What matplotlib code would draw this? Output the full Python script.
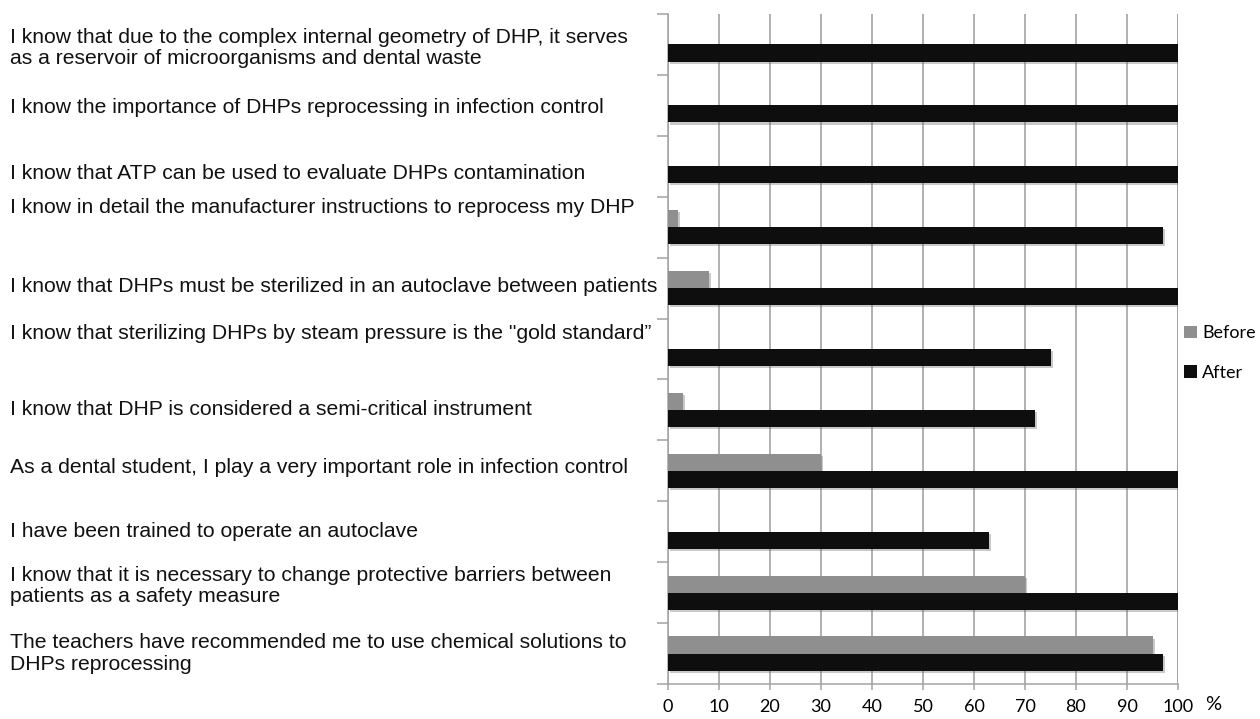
import matplotlib
matplotlib.use("Agg")
import matplotlib.pyplot as plt
import matplotlib.patheffects as pe
from matplotlib.patches import Patch

# statements, top to bottom
statements = [
    "I know that due to the complex internal geometry of DHP, it serves\nas a reservoir of microorganisms and dental waste",
    "I know the importance of DHPs reprocessing in infection control",
    "I know that ATP can be used to evaluate DHPs contamination",
    "I know in detail the manufacturer instructions to reprocess my DHP",
    "I know that DHPs must be sterilized in an autoclave between patients",
    "I know that sterilizing DHPs by steam pressure is the \"gold standard\u201d",
    "I know that DHP is considered a semi-critical instrument",
    "As a dental student, I play a very important role in infection control",
    "I have been trained to operate an autoclave",
    "I know that it is necessary to change protective barriers between\npatients as a safety measure",
    "The teachers have recommended me to use chemical solutions to\nDHPs reprocessing",
]
before = [0, 0, 0, 2, 8, 0, 3, 30, 0, 70, 95]
after = [100, 100, 100, 97, 100, 75, 72, 100, 63, 100, 97]

x_ticks = list(range(0, 101, 10))

# small vertical nudges of the text labels (in rows)
label_shift = [0.06, 0.03, 0.12, -0.32, -0.02, -0.26, 0.0, -0.05, 0.0, -0.11, 0.0]

fig = plt.figure(figsize=(12.6, 7.19), dpi=100)
ax = fig.add_axes([668 / 1260, 1 - 684 / 719, 510 / 1260, 670 / 719])

grey = "#8f8f8f"
black = "#0e0e0e"
line_col = "#a3a3a3"
h = 0.28
rows = list(range(len(statements)))

shadow = [pe.SimplePatchShadow(offset=(1.5, -1.5), shadow_rgbFace="#666666", alpha=0.35), pe.Normal()]

bars_b = ax.barh([r - h / 2 for r in rows], before, height=h, color=grey, zorder=3)
bars_a = ax.barh([r + h / 2 for r in rows], after, height=h, color=black, zorder=3)
for b in list(bars_b) + list(bars_a):
    if b.get_width() > 0:
        b.set_path_effects(shadow)

ax.set_xlim(0, 100)
ax.set_ylim(len(statements) - 0.5, -0.5)

ax.set_xticks(x_ticks)
ax.set_xticklabels([str(v) for v in x_ticks], fontfamily="Lato", fontsize=13)
ax.set_yticks([r - 0.5 for r in rows] + [len(rows) - 0.5])
ax.set_yticklabels([])
ax.tick_params(axis="x", length=4, width=1.1, color=line_col, pad=7)
ax.tick_params(axis="y", length=8, width=1.1, color=line_col)
ax.xaxis.grid(True, color=line_col, linewidth=1.2, zorder=0)
ax.set_axisbelow(True)

for s in ["top", "right"]:
    ax.spines[s].set_visible(False)
for s in ["left", "bottom"]:
    ax.spines[s].set_color(line_col)
    ax.spines[s].set_linewidth(1.1)

# the 100 gridline at the right edge
ax.axvline(100, color=line_col, linewidth=1.2, zorder=0)

# statement labels at the left edge of the figure
trans = matplotlib.transforms.blended_transform_factory(fig.transFigure, ax.transData)
for r, text in enumerate(statements):
    ax.text(10 / 1260, r + label_shift[r], text, transform=trans, ha="left", va="center",
            fontfamily="Liberation Sans", fontsize=15.2, color="#111111", linespacing=1.18)

fig.text(1205 / 1260, 1 - 705 / 719, "%", fontfamily="Lato", fontsize=14.5, va="center", ha="left")

handles = [Patch(facecolor=grey, label="Before"), Patch(facecolor=black, label="After")]
fig.legend(handles=handles, loc="center left", bbox_to_anchor=(1184 / 1260, 1 - 353 / 719),
           frameon=False, prop={"family": "Lato", "size": 13}, handlelength=0.7, handleheight=0.7,
           handletextpad=0.3, labelspacing=1.3, borderaxespad=0.0, borderpad=0.0)

fig.savefig("out.png", dpi=100)
